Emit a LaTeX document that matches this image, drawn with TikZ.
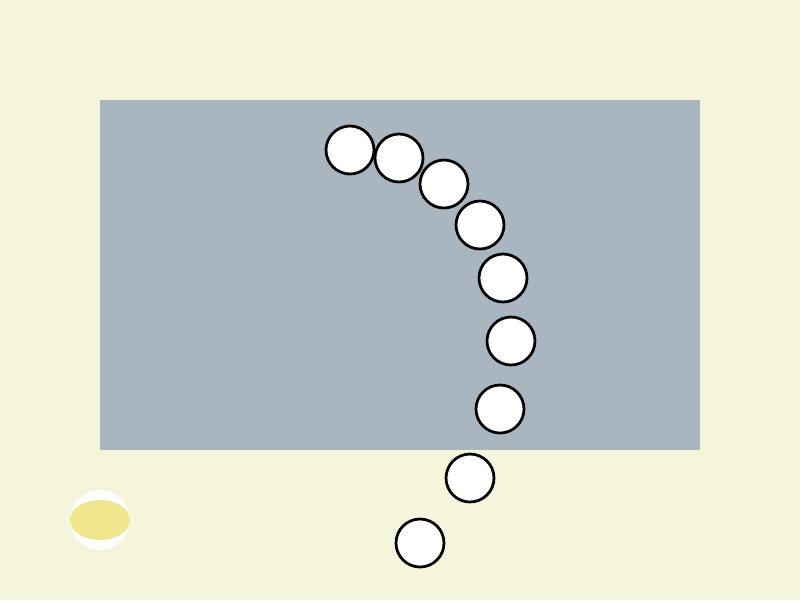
\documentclass[tikz,border=0pt]{standalone}
\usepackage{tikz}

\definecolor{bgbeige}{RGB}{245,245,220}
\definecolor{panelgray}{RGB}{169,182,191}
\definecolor{yolk}{RGB}{240,230,140}

\begin{document}
\begin{tikzpicture}[x=0.02cm, y=-0.02cm, b/.style={draw, circle, fill=white, line width=0.055cm, minimum size=0.96cm, inner sep=0pt}]
	\fill[bgbeige] (0,0) rectangle (800,600);
	\useasboundingbox (0,0) rectangle (800,600);
	\fill[panelgray] (100,100) rectangle (700,450);
	\node[b] (b1) at (350,150) {};
	\node[b] (b2) at (399,158) {};
	\node[b] (b3) at (444,184) {};
	\node[b] (b4) at (480,225) {};
	\node[b] (b5) at (503,278) {};
	\node[b] (b6) at (511,341) {};
	\node[b] (b7) at (500,409) {};
	\node[b] (b8) at (470,478) {};
	\node[b] (b9) at (420,543) {};
	\node[circle, fill=white, minimum size=1.2cm, inner sep=0pt] (egg) at (100,520) {};
	\fill[yolk] (egg.center) ellipse [x radius=30, y radius=20];
\end{tikzpicture}
\end{document}
